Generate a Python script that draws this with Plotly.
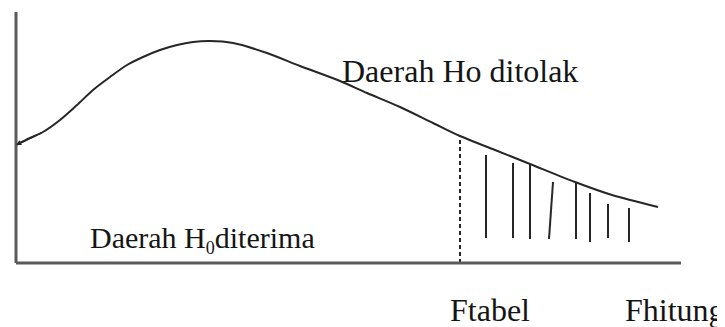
import plotly.graph_objects as go

# F distribution sketch (plot units)
curve_x = [0, 14, 27, 44, 61, 77, 94, 111, 127, 144, 161, 177, 194, 217, 251, 284, 324, 351,
           384, 417, 444, 479, 514, 559, 596, 642]
curve_y = [118, 125, 131, 143, 158, 173, 186, 198, 206, 213, 218, 221, 222, 220, 210, 197, 182, 170,
           156, 140, 127, 113, 99, 81, 68, 56]

# hatching in the rejection region
hatch_x_top = [470, 497, 514, 537, 560, 574, 592, 613]
hatch_x_bottom = [470, 497, 514, 533, 560, 574, 592, 613]
hatch_top = [108, 100, 98, 81, 81, 70, 59, 55]
hatch_bottom = [25, 25, 24, 24, 24, 21, 25, 21]

f_tabel = 444
f_tabel_height = 127
axis_x_end = 665
axis_y_end = 251

labels = ["Daerah Ho ditolak", "Daerah H<sub><span style='font-size:18px'>0</span></sub>diterima",
          "Ftabel", "Fhitung"]
label_x = [324, 72, 432, 607]
label_y = [192, 24, -47, -47]
label_size = [32, 30, 32, 32]

ink = "#262626"

fig = go.Figure()

fig.add_trace(go.Scatter(x=curve_x, y=curve_y, mode="lines",
                         line=dict(color=ink, width=2, shape="spline", smoothing=0.8),
                         hoverinfo="skip"))

hx, hy = [], []
for xt, xb, t, b in zip(hatch_x_top, hatch_x_bottom, hatch_top, hatch_bottom):
    hx += [xt, xb, None]
    hy += [t, b, None]
fig.add_trace(go.Scatter(x=hx, y=hy, mode="lines", line=dict(color=ink, width=2),
                         hoverinfo="skip"))

fig.add_trace(go.Scatter(x=[f_tabel, f_tabel], y=[0, f_tabel_height], mode="lines",
                         line=dict(color=ink, width=2, dash="4px,3px"), hoverinfo="skip"))

# axes
fig.add_shape(type="line", x0=0, y0=0, x1=axis_x_end, y1=0, line=dict(color="#5a5a5a", width=3))
fig.add_shape(type="line", x0=0, y0=0, x1=0, y1=axis_y_end, line=dict(color="#5a5a5a", width=3))

# small arrow head at the left end of the curve
fig.add_annotation(x=curve_x[0], y=curve_y[0], ax=curve_x[2], ay=curve_y[2],
                   axref="x", ayref="y", text="", showarrow=True,
                   arrowhead=2, arrowsize=0.7, arrowwidth=1.5, arrowcolor=ink)

for txt, x, y, s in zip(labels, label_x, label_y, label_size):
    fig.add_annotation(x=x, y=y, text=txt, showarrow=False, xanchor="left", yanchor="middle",
                       font=dict(family="Liberation Serif, Times New Roman, serif", size=s,
                                 color="#151515"))

# page body has an 8px margin, so the figure is 8px smaller than the window
fig.update_layout(
    width=717, height=319,
    margin=dict(l=0, r=0, t=0, b=0),
    paper_bgcolor="white", plot_bgcolor="white",
    showlegend=False,
    xaxis=dict(range=[-8, 709], visible=False, fixedrange=True),
    yaxis=dict(range=[-64, 255], visible=False, fixedrange=True),
)

fig.write_html("out.html")
